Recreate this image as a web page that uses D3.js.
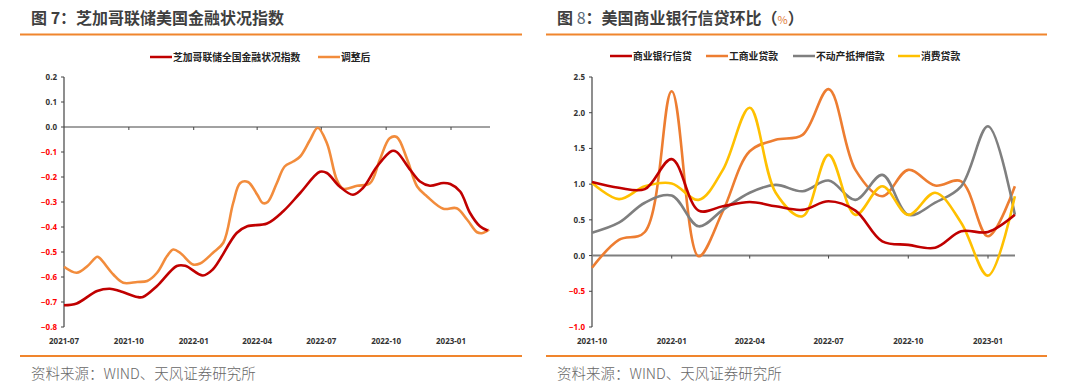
<!DOCTYPE html>
<html>
<head>
<meta charset="utf-8">
<script src="https://cdn.jsdelivr.net/npm/d3@7"></script>
<style>
  html, body { margin: 0; padding: 0; background: #fff; }
  svg { display: block; }
  .cjk { font-family: "Noto Sans CJK SC", "Noto Sans", sans-serif; }
  .tick-lbl { font-family: "Noto Sans", "DejaVu Sans", sans-serif; font-weight: 700; font-size: 8px; }
</style>
</head>
<body>
<svg id="chart" width="1080" height="385"></svg>
<script>
// ---------- Data: Figure 7 ----------
const fig7Title = "芝加哥联储美国金融状况指数";
const fig7SeriesNames = ["芝加哥联储全国金融状况指数", "调整后"];
const fig7XTicks = ["2021-07", "2021-10", "2022-01", "2022-04", "2022-07", "2022-10", "2023-01"];
const fig7YTicks = [0.2, 0.1, 0.0, -0.1, -0.2, -0.3, -0.4, -0.5, -0.6, -0.7, -0.8];

const nfciDates = ["2021-07-01","2021-07-19","2021-08-17","2021-09-04","2021-09-18","2021-10-13","2021-10-21",
  "2021-11-10","2021-12-08","2021-12-20","2022-01-14","2022-01-28","2022-03-03","2022-03-18","2022-04-15",
  "2022-05-08","2022-06-01","2022-06-29","2022-07-09","2022-07-27","2022-08-15","2022-08-29","2022-09-18",
  "2022-10-09","2022-10-16","2022-11-04","2022-11-18","2022-12-02","2022-12-21","2022-12-31","2023-01-14",
  "2023-01-28","2023-02-11","2023-02-22"];
const nfciValues = [-0.713,-0.706,-0.656,-0.647,-0.656,-0.680,-0.680,
  -0.636,-0.556,-0.555,-0.594,-0.570,-0.424,-0.397,-0.386,
  -0.337,-0.264,-0.179,-0.184,-0.238,-0.271,-0.244,-0.158,
  -0.096,-0.100,-0.171,-0.218,-0.235,-0.224,-0.228,-0.258,
  -0.344,-0.397,-0.414];

const adjDates = ["2021-07-01","2021-07-19","2021-08-03","2021-08-17","2021-08-21","2021-09-09","2021-09-23",
  "2021-10-13","2021-10-27","2021-11-10","2021-11-24","2021-12-03","2021-12-13","2021-12-31","2022-01-10",
  "2022-01-28","2022-02-12","2022-02-26","2022-03-08","2022-03-19","2022-04-01","2022-04-09","2022-04-16",
  "2022-04-29","2022-05-10","2022-05-22","2022-06-01","2022-06-15","2022-06-26","2022-07-09","2022-07-23",
  "2022-08-01","2022-08-21","2022-09-08","2022-09-22","2022-10-06","2022-10-16","2022-10-31","2022-11-14",
  "2022-11-28","2022-12-21","2023-01-09","2023-01-24","2023-02-07","2023-02-15","2023-02-24"];
const adjValues = [-0.559,-0.583,-0.557,-0.519,-0.525,-0.590,-0.623,
  -0.620,-0.616,-0.583,-0.517,-0.490,-0.504,-0.550,-0.546,
  -0.504,-0.463,-0.304,-0.224,-0.220,-0.270,-0.304,-0.300,
  -0.224,-0.158,-0.138,-0.118,-0.052,-0.003,-0.065,-0.211,
  -0.247,-0.235,-0.225,-0.131,-0.045,-0.040,-0.131,-0.238,
  -0.278,-0.327,-0.325,-0.371,-0.421,-0.424,-0.410];

// ---------- Data: Figure 8 ----------
const fig8Title = "美国商业银行信贷环比";
const fig8SeriesNames = ["商业银行信贷", "工商业贷款", "不动产抵押借款", "消费贷款"];
const fig8XTicks = ["2021-10", "2022-01", "2022-04", "2022-07", "2022-10", "2023-01"];
const fig8YTicks = [2.5, 2.0, 1.5, 1.0, 0.5, 0.0, -0.5, -1.0];
const fig8Months = ["2021-10","2021-11","2021-12","2022-01","2022-02","2022-03","2022-04","2022-05",
  "2022-06","2022-07","2022-08","2022-09","2022-10","2022-11","2022-12","2023-01","2023-02"];
const bankCredit   = [1.03, 0.95, 0.93, 1.35, 0.63, 0.69, 0.75, 0.69, 0.64, 0.76, 0.63, 0.20, 0.15, 0.11, 0.34, 0.33, 0.57];
const ciLoans      = [-0.17, 0.22, 0.33, 2.30, -0.01, 0.62, 1.46, 1.62, 1.69, 2.33, 1.20, 0.83, 1.20, 0.98, 1.04, 0.27, 0.97];
const realEstate   = [0.32, 0.46, 0.74, 0.84, 0.41, 0.64, 0.88, 0.99, 0.90, 1.05, 0.78, 1.13, 0.57, 0.74, 0.97, 1.81, 0.57];
const consumer     = [1.02, 0.79, 0.97, 1.01, 0.78, 1.20, 2.07, 0.88, 0.55, 1.41, 0.57, 0.97, 0.57, 0.88, 0.46, -0.28, 0.83];

const sourceText = "资料来源：WIND、天风证券研究所";

// ---------- Drawing ----------
const svg = d3.select("#chart");
const parse = d3.timeParse("%Y-%m-%d");
const parseM = d3.timeParse("%Y-%m");
const ORANGE_RULE = "#F0852D";
const TITLE_COLOR = "#3F3F3F";

function header(x0, x1, textX, titleParts) {
  const t = svg.append("text").attr("class", "cjk").attr("x", textX).attr("y", 24)
    .attr("font-size", 16).attr("font-weight", 700).attr("fill", TITLE_COLOR);
  titleParts.forEach(p => {
    const ts = t.append("tspan").text(p.text);
    if (p.fill) ts.attr("fill", p.fill);
    if (p.weight) ts.attr("font-weight", p.weight);
    if (p.size) ts.attr("font-size", p.size);
  });
  svg.append("line").attr("x1", x0).attr("x2", x1).attr("y1", 34.5).attr("y2", 34.5)
    .attr("stroke", ORANGE_RULE).attr("stroke-width", 2);
  svg.append("line").attr("x1", x0).attr("x2", x1).attr("y1", 356).attr("y2", 356)
    .attr("stroke", ORANGE_RULE).attr("stroke-width", 2);
  svg.append("text").attr("class", "cjk").attr("x", textX).attr("y", 378.5)
    .attr("font-size", 14.5).attr("fill", "#666").attr("font-weight", 300).text(sourceText);
}

function legend(items, y) {
  items.forEach(it => {
    svg.append("line").attr("x1", it.x).attr("x2", it.x + 22).attr("y1", y).attr("y2", y)
      .attr("stroke", it.color).attr("stroke-width", 2.5);
    svg.append("text").attr("class", "cjk").attr("x", it.x + 23).attr("y", y + 3.5)
      .attr("font-size", 9.8).attr("font-weight", 700).attr("fill", "#222").text(it.name);
  });
}

function yAxis(yScale, x, ticks, fmt, y0, y1) {
  const g = svg.append("g");
  g.append("line").attr("x1", x).attr("x2", x).attr("y1", y0).attr("y2", y1)
    .attr("stroke", "#444").attr("stroke-width", 1.2);
  ticks.forEach(v => {
    const y = yScale(v);
    g.append("line").attr("x1", x - 3).attr("x2", x).attr("y1", y).attr("y2", y)
      .attr("stroke", "#444").attr("stroke-width", 1);
    g.append("text").attr("class", "tick-lbl").attr("x", x - 7).attr("y", y + 3)
      .attr("text-anchor", "end").attr("fill", v < 0 ? "#FF0000" : "#333").text(fmt(v));
  });
}

function xAxis(xScale, yZero, x0, x1, tickDates, labelY, axisColor, axisW) {
  const g = svg.append("g");
  g.append("line").attr("x1", x0).attr("x2", x1).attr("y1", yZero).attr("y2", yZero)
    .attr("stroke", axisColor).attr("stroke-width", axisW);
  tickDates.forEach((s, i) => {
    const x = xScale(parseM(s));
    if (i > 0) {
      g.append("line").attr("x1", x).attr("x2", x).attr("y1", yZero).attr("y2", yZero + 3)
        .attr("stroke", "#444").attr("stroke-width", 1);
    }
    g.append("text").attr("class", "tick-lbl").attr("x", x).attr("y", labelY)
      .attr("text-anchor", "middle").attr("fill", "#333").text(s);
  });
}

const fmt1 = d3.format(".1f");

// ===== Figure 7 =====
header(20, 522, 31, [{text: "图 7：" + fig7Title}]);
legend([
  {x: 150, color: "#C00000", name: fig7SeriesNames[0]},
  {x: 318, color: "#F28C3C", name: fig7SeriesNames[1]}
], 57);

const x7 = d3.scaleTime().domain([parse("2021-07-01"), parse("2023-01-01")]).range([64, 451]);
const y7 = d3.scaleLinear().domain([-0.8, 0.2]).range([327, 77]);
yAxis(y7, 64, fig7YTicks, v => fmt1(v).replace("-0.0", "0.0"), 77, 327);
xAxis(x7, y7(0), 64, 490, fig7XTicks, 344, "#444", 1);

const line7 = d3.line().x(d => x7(d[0])).y(d => y7(d[1])).curve(d3.curveCatmullRom.alpha(0.5));
svg.append("path").datum(adjDates.map((d, i) => [parse(d), adjValues[i]]))
  .attr("d", line7).attr("fill", "none").attr("stroke", "#F28C3C").attr("stroke-width", 2.6)
  .attr("stroke-linejoin", "round");
svg.append("path").datum(nfciDates.map((d, i) => [parse(d), nfciValues[i]]))
  .attr("d", line7).attr("fill", "none").attr("stroke", "#C00000").attr("stroke-width", 2.6)
  .attr("stroke-linejoin", "round");

// ===== Figure 8 =====
header(546, 1047, 557, [
  {text: "图 "}, {text: "8", weight: 400, fill: "#5A6A7A"}, {text: "：" + fig8Title + "（"},
  {text: "%", weight: 400, fill: "#E07B39", size: 11}, {text: "）"}
]);
const colors8 = ["#C00000", "#ED7D31", "#7F7F7F", "#FFC000"];
legend([
  {x: 610, color: colors8[0], name: fig8SeriesNames[0]},
  {x: 706, color: colors8[1], name: fig8SeriesNames[1]},
  {x: 793, color: colors8[2], name: fig8SeriesNames[2]},
  {x: 898, color: colors8[3], name: fig8SeriesNames[3]}
], 56);

const x8 = d3.scaleTime().domain([parseM("2021-10"), parseM("2023-01")]).range([592, 988]);
const y8 = d3.scaleLinear().domain([-1.0, 2.5]).range([327, 77]);
yAxis(y8, 592, fig8YTicks, fmt1, 77, 327);
xAxis(x8, y8(0), 592, 1015, fig8XTicks, 344, "#7F7F7F", 2);

const series8 = [bankCredit, ciLoans, realEstate, consumer];
const line8 = d3.line().x(d => x8(d[0])).y(d => y8(d[1])).curve(d3.curveCatmullRom.alpha(0.5));
[1, 2, 3, 0].forEach(k => {
  svg.append("path").datum(fig8Months.map((m, i) => [parseM(m), series8[k][i]]))
    .attr("d", line8).attr("fill", "none").attr("stroke", colors8[k]).attr("stroke-width", 2.6)
    .attr("stroke-linejoin", "round");
});
</script>
</body>
</html>
